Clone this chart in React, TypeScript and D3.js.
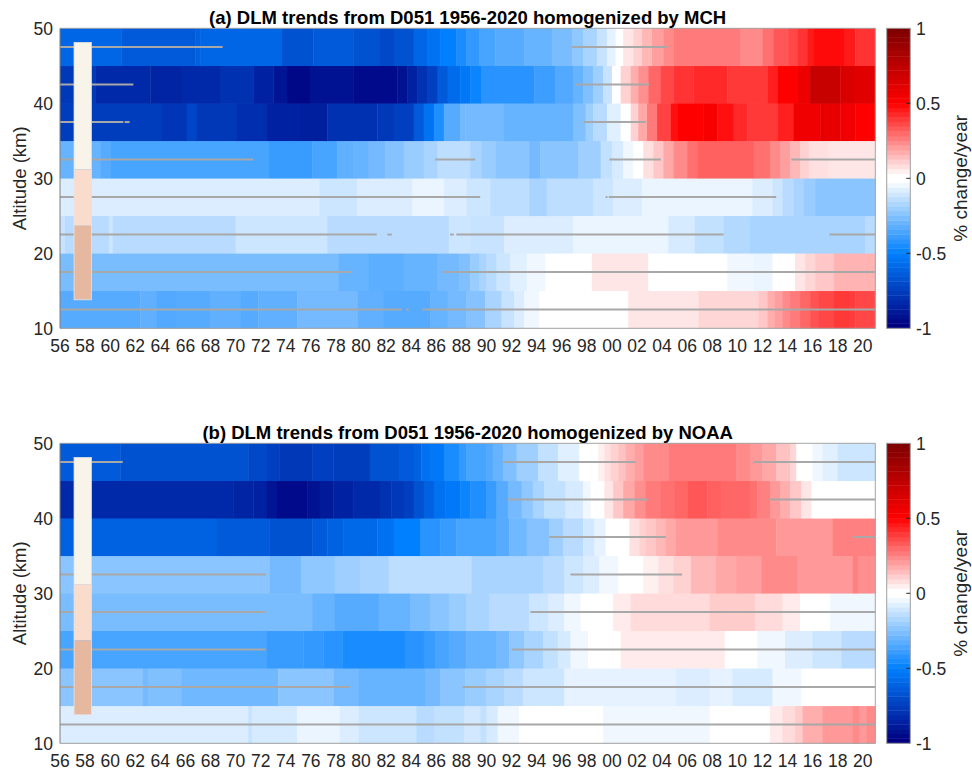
import React from 'react';
import * as d3 from 'd3';

type Seg = [number, number][];
type Span = [number, number][];

// ---------- axes / ticks ----------
const yearStart = 1956;
const yearEnd = 2021;
const xTickYears = d3.range(1956, 2021, 2);
const yTickAlts = [10, 20, 30, 40, 50];
const cbTickValues = [-1, -0.5, 0, 0.5, 1];
const bandLower = [10, 15, 20, 25, 30, 35, 40, 45];
const bandDepth = 5;
const titles = [
  '(a) DLM trends from D051 1956-2020 homogenized by MCH',
  '(b) DLM trends from D051 1956-2020 homogenized by NOAA',
];

// ---------- panel (a) MCH: [start year, trend %/yr] ----------
const mch_10_15: Seg = [[1956,-0.33],[1962.4,-0.31],[1963.7,-0.34],[1965.3,-0.33],[1968,-0.31],[1970.4,-0.33],[1971.8,-0.31],[1974.9,-0.27],[1979.7,-0.31],[1981.8,-0.33],[1985.5,-0.3],[1986.9,-0.27],[1988.4,-0.24],[1989.9,-0.17],[1991.2,-0.11],[1992.2,-0.07],[1993,-0.03],[1994.2,0],[2001.3,0.05],[2006.9,0.08],[2011.7,0.11],[2012.4,0.16],[2013,0.19],[2013.6,0.23],[2014.2,0.26],[2015,0.3],[2015.8,0.34],[2016.5,0.36],[2017.7,0.39],[2018.9,0.38],[2019.4,0.36]];
const mch_15_20: Seg = [[1956,-0.26],[1978.2,-0.3],[1980.6,-0.32],[1983.4,-0.3],[1986.1,-0.27],[1987.8,-0.25],[1988.7,-0.2],[1989.4,-0.17],[1990,-0.14],[1990.8,-0.1],[1991.9,-0.06],[1993.2,-0.03],[1994.7,0],[1998.4,0.05],[2002.9,0],[2009.2,-0.03],[2011.3,-0.04],[2012.8,0],[2014.6,0.05],[2015.4,0.08],[2016.2,0.11],[2017.7,0.15]];
const mch_20_25: Seg = [[1956,-0.11],[1956.4,-0.14],[1959.9,-0.1],[1960.2,-0.14],[1970,-0.1],[1977.3,-0.14],[1987,-0.1],[1988.7,-0.11],[1991.4,-0.07],[1996.9,-0.04],[2004.5,-0.08],[2006.6,-0.12],[2008.9,-0.15],[2011,-0.17],[2020.2,-0.14]];
const mch_25_30: Seg = [[1956,-0.07],[1976.7,-0.1],[1979.7,-0.07],[1984.1,-0.04],[1986.6,-0.07],[1988.4,-0.1],[1990.3,-0.13],[1993.4,-0.17],[1994.8,-0.13],[1998.5,-0.1],[2000.1,-0.07],[2002.4,-0.04],[2011.2,-0.07],[2012.8,-0.1],[2013.6,-0.14],[2014.5,-0.17],[2015.3,-0.2],[2016.2,-0.23]];
const mch_30_35: Seg = [[1956,-0.3],[1959.2,-0.33],[1960,-0.36],[1972.6,-0.39],[1976.1,-0.36],[1978.1,-0.31],[1979.4,-0.3],[1980.6,-0.27],[1981.9,-0.24],[1983.4,-0.2],[1985,-0.17],[1986.1,-0.13],[1988.7,-0.17],[1989.6,-0.2],[1990.7,-0.23],[1993.4,-0.27],[1994.3,-0.23],[1997.3,-0.19],[1999.1,-0.12],[2000,-0.08],[2000.9,-0.03],[2001.7,0],[2002.5,0.06],[2003.3,0.11],[2004.1,0.17],[2004.9,0.23],[2006,0.28],[2006.8,0.31],[2011.3,0.28],[2012.6,0.23],[2013.4,0.19],[2014.2,0.14],[2015,0.09],[2015.7,0.06],[2017.3,0.05]];
const mch_35_40: Seg = [[1956,-0.76],[1964.1,-0.79],[1966.1,-0.73],[1966.9,-0.78],[1970.1,-0.82],[1972.5,-0.87],[1975.1,-0.88],[1977.3,-0.81],[1981.3,-0.78],[1982.6,-0.75],[1984.2,-0.65],[1985,-0.55],[1985.8,-0.44],[1986.6,-0.33],[1987.9,-0.28],[1988.3,-0.27],[1991.4,-0.3],[1996.9,-0.25],[1997.9,-0.19],[1998.5,-0.14],[1999.6,-0.06],[2000.7,0],[2001.5,0.09],[2002.1,0.17],[2002.8,0.26],[2003.6,0.37],[2004.7,0.47],[2005.2,0.5],[2007.3,0.53],[2008.4,0.47],[2009.7,0.42],[2010.8,0.39],[2013.2,0.44],[2014.5,0.56],[2016.6,0.59],[2018.2,0.56],[2019.4,0.5]];
const mch_40_45: Seg = [[1956,-0.78],[1958.8,-0.84],[1963.2,-0.86],[1965.7,-0.84],[1968.8,-0.81],[1971.4,-0.87],[1973,-0.92],[1974.1,-0.97],[1975.9,-0.93],[1979.4,-0.96],[1982.9,-0.93],[1983.7,-0.87],[1984.5,-0.81],[1985.3,-0.75],[1986.1,-0.65],[1986.9,-0.58],[1987.9,-0.53],[1988.7,-0.48],[1989.6,-0.42],[1993.8,-0.38],[1995.5,-0.34],[1996.9,-0.3],[1997.7,-0.25],[1998.5,-0.19],[1999.3,-0.11],[2000,0],[2000.7,0.09],[2001.5,0.16],[2002.1,0.22],[2002.9,0.3],[2003.9,0.36],[2004.9,0.4],[2006.5,0.42],[2009.2,0.39],[2012.4,0.44],[2013.2,0.5],[2014.8,0.57],[2015.8,0.72],[2018.2,0.65],[2019.3,0.62]];
const mch_45_50: Seg = [[1956,-0.6],[1960.9,-0.65],[1966.8,-0.62],[1967.2,-0.6],[1973.7,-0.68],[1976.2,-0.65],[1979.4,-0.68],[1981.5,-0.72],[1982.6,-0.68],[1984.2,-0.6],[1985.3,-0.55],[1986.3,-0.5],[1987.6,-0.45],[1988.4,-0.4],[1989.4,-0.36],[1990.7,-0.33],[1993,-0.3],[1995.2,-0.26],[1996.8,-0.22],[1997.7,-0.17],[1998.8,-0.11],[1999.6,-0.05],[2000.3,0],[2000.9,0.05],[2001.7,0.09],[2002.4,0.14],[2003.2,0.19],[2004.1,0.23],[2004.9,0.26],[2010.2,0.23],[2012,0.28],[2012.9,0.33],[2014.1,0.36],[2014.8,0.4],[2015.6,0.45],[2016.1,0.48],[2018.5,0.45],[2019.4,0.4]];

// ---------- panel (b) NOAA ----------
const noaa_10_15: Seg = [[1956,-0.07],[1971,-0.11],[1971.3,-0.08],[1974.9,-0.04],[1978.3,-0.07],[1979.8,-0.1],[1984.4,-0.14],[1985.8,-0.12],[1988.2,-0.09],[1989.5,-0.12],[1990,-0.08],[1990.9,-0.03],[1992.6,0],[1999.3,-0.03],[2007.8,0],[2012.6,0.04],[2013.6,0.07],[2014.6,0.1],[2015.2,0.16],[2016.8,0.2],[2019.2,0.23],[2019.7,0.2],[2020.3,0.23]];
const noaa_15_20: Seg = [[1956,-0.23],[1962.6,-0.27],[1963,-0.25],[1965.7,-0.28],[1973.4,-0.23],[1977.8,-0.27],[1979.8,-0.3],[1985.1,-0.27],[1986.3,-0.23],[1988.3,-0.2],[1990,-0.17],[1991.4,-0.14],[1992.9,-0.1],[1996.2,-0.05],[2005.1,-0.07],[2007.8,-0.05],[2009.6,-0.08],[2012.8,-0.03],[2015.1,0]];
const noaa_20_25: Seg = [[1956,-0.36],[1972.5,-0.39],[1975.4,-0.4],[1977,-0.42],[1978.5,-0.45],[1983.5,-0.42],[1985,-0.39],[1985.9,-0.36],[1987,-0.33],[1988.4,-0.3],[1990.8,-0.27],[1991.8,-0.22],[1993,-0.17],[1994.5,-0.12],[1995.7,-0.08],[1996.7,-0.03],[1998.1,0],[2000.7,0.04],[2009,0],[2011.6,-0.03],[2013.8,-0.07],[2016,-0.1],[2018.3,-0.14]];
const noaa_25_30: Seg = [[1956,-0.26],[1976.1,-0.3],[1977.9,-0.33],[1981.4,-0.3],[1983.9,-0.26],[1985.5,-0.23],[1987,-0.2],[1988.4,-0.17],[1990.2,-0.14],[1993.4,-0.1],[1994.9,-0.07],[1996.2,-0.03],[1997.5,0],[2000.1,0.04],[2001.5,0.07],[2007.8,0.1],[2011.4,0.07],[2013.6,0.04],[2015,0],[2017.4,-0.03]];
const noaa_30_35: Seg = [[1956,-0.23],[1972.7,-0.27],[1975.2,-0.22],[1977.9,-0.19],[1979.9,-0.17],[1982.2,-0.13],[1988.8,-0.17],[1994.5,-0.14],[1996.2,-0.1],[1997.7,-0.07],[1999,-0.03],[2000.5,0],[2002.5,0.03],[2003.7,0.06],[2004.9,0.09],[2006.3,0.14],[2008.3,0.17],[2009.9,0.19],[2011.9,0.23],[2014.8,0.2],[2019.2,0.25],[2019.6,0.22]];
const noaa_35_40: Seg = [[1956,-0.62],[1968.5,-0.65],[1972.7,-0.68],[1976.1,-0.65],[1977.3,-0.62],[1978.6,-0.59],[1981.3,-0.56],[1982.6,-0.5],[1984.7,-0.42],[1986.3,-0.39],[1987.6,-0.36],[1990.8,-0.33],[1991.8,-0.28],[1993.2,-0.24],[1995,-0.19],[1996.1,-0.14],[1997.7,-0.09],[1998.6,-0.05],[1999.5,0],[2001.4,0.06],[2002.2,0.09],[2002.7,0.11],[2003.5,0.14],[2004.3,0.17],[2005.1,0.2],[2008.4,0.23],[2013.1,0.2],[2017.6,0.25]];
const noaa_40_45: Seg = [[1956,-0.84],[1969.8,-0.86],[1971.4,-0.87],[1972.5,-0.92],[1973.3,-0.96],[1975.7,-0.93],[1976.7,-0.9],[1977.8,-0.87],[1979.4,-0.84],[1981.5,-0.81],[1982.4,-0.78],[1983.4,-0.75],[1984.2,-0.68],[1985,-0.62],[1985.8,-0.56],[1986.7,-0.53],[1987.9,-0.48],[1988.7,-0.44],[1990,-0.39],[1990.8,-0.33],[1991.7,-0.27],[1992.8,-0.22],[1993.7,-0.17],[1994.6,-0.12],[1996.3,-0.08],[1997.7,-0.03],[1998.3,0],[1999.4,0.05],[2000.1,0.11],[2000.9,0.17],[2001.8,0.22],[2002.7,0.26],[2003.9,0.28],[2005,0.3],[2006,0.33],[2007.6,0.31],[2008.7,0.3],[2011,0.28],[2011.6,0.25],[2012.6,0.2],[2013.4,0.16],[2014.2,0.11],[2015.1,0.05],[2015.9,0]];
const noaa_45_50: Seg = [[1956,-0.65],[1960.8,-0.68],[1971,-0.72],[1972.5,-0.75],[1973.5,-0.78],[1976.1,-0.75],[1977.8,-0.76],[1980.7,-0.68],[1983,-0.65],[1984.2,-0.62],[1984.8,-0.56],[1985.5,-0.53],[1986.6,-0.45],[1987.8,-0.4],[1988.4,-0.36],[1990,-0.34],[1990.5,-0.3],[1991.3,-0.25],[1992.4,-0.19],[1994.1,-0.12],[1995.7,-0.06],[1997.4,0],[1998.9,0.03],[1999.4,0.06],[1999.9,0.09],[2000.5,0.12],[2001.1,0.16],[2001.8,0.19],[2002.5,0.23],[2004.5,0.26],[2009.9,0.23],[2011,0.2],[2012,0.17],[2013.1,0.12],[2014.2,0.08],[2014.7,0],[2016,-0.03],[2016.8,-0.06],[2018,-0.1]];

// ---------- grey line year spans per band (bottom band first) ----------
const mchLines: Span[] = [
  [[1956,1983.25],[1983.6,1983.8],[1984.9,2021]],
  [[1956,1979.3],[1986.5,2021]],
  [[1956,1981.25],[1982.1,1982.45],[1987.1,1987.4],[1987.6,2008.9],[2017.35,2021]],
  [[1956,1989.5],[1999.5,1999.65],[1999.75,2013.1]],
  [[1956,1971.4],[1985.9,1989.1],[1999.8,2003.9],[2014.3,2021]],
  [[1956,1961.05],[1961.15,1961.55],[1997.75,2002.7]],
  [[1956,1961.85],[1997.1,2003]],
  [[1956,1968.97],[1996.8,2004.4]],
];
const noaaLines: Span[] = [
  [[1956,2021]],
  [[1956,1979.1],[1988.1,2021]],
  [[1956,1972.4],[1992,2021]],
  [[1956,1972.35],[1993.5,2021]],
  [[1956,1972.4],[1996.7,2005.6]],
  [[1995,2004.3],[2019.2,2021]],
  [[1991.7,2002.9],[2012.6,2021]],
  [[1956,1961],[1991.3,2001.9],[2011.3,2021]],
];

// ---------- vertical bar (years, altitude ranges) ----------
const barYears: [number, number] = [1957.12, 1958.5];
const barAlt: [number, number][] = [[31.2, 48.1], [23.7, 31.2], [13.8, 23.7]];
const barColors = ['#f8f4ea', '#fadccc', '#e6b8a0'];

const mchBands = [mch_10_15, mch_15_20, mch_20_25, mch_25_30, mch_30_35, mch_35_40, mch_40_45, mch_45_50];
const noaaBands = [noaa_10_15, noaa_15_20, noaa_20_25, noaa_25_30, noaa_30_35, noaa_35_40, noaa_40_45, noaa_45_50];

const W = 972, H = 770;
const left = 60, right = 875.3;
const cbLeft = 886.7, cbRight = 910.3;
const FONT = '"Liberation Sans", Arial, Helvetica, sans-serif';

const color = d3.scaleLinear<string>()
  .domain([-1, -0.5, 0, 0.5, 1])
  .range(['#000080', '#0080ff', '#ffffff', '#ff0000', '#800000'])
  .interpolate(d3.interpolateRgb)
  .clamp(true);

const cbLevels = d3.range(64).map(k => (k < 32 ? -1 + k / 31 : (k - 32) / 31));

const x = d3.scaleLinear().domain([yearStart, yearEnd]).range([left, right]);

function Panel({ top, bottom, title, titleY, bands, lines }: {
  top: number; bottom: number; title: string; titleY: number; bands: Seg[]; lines: Span[];
}) {
  const y = d3.scaleLinear().domain([10, 50]).range([bottom, top]);
  const cbY = d3.scaleLinear().domain([0, 64]).range([bottom, top]);
  const cbV = d3.scaleLinear().domain([-1, 1]).range([bottom, top]);
  const midY = (top + bottom) / 2;
  return (
    <g>
      {bands.map((segs, bi) => {
        const lo = bandLower[bi];
        const y0 = y(lo + bandDepth), y1 = y(lo);
        return segs.map((s, si) => {
          const xs = x(s[0]);
          const xe = si + 1 < segs.length ? x(segs[si + 1][0]) : x(yearEnd);
          return (
            <rect key={`${bi}-${si}`} x={xs} y={y0 - 0.25} width={xe - xs + 0.4}
              height={y1 - y0 + 0.5} fill={color(s[1])} />
          );
        });
      })}
      {lines.map((spans, bi) => {
        const yc = y(bandLower[bi] + bandDepth / 2);
        return spans.map((sp, si) => (
          <line key={`l${bi}-${si}`} x1={x(sp[0])} x2={x(sp[1])} y1={yc} y2={yc}
            stroke="#a8a8a8" strokeWidth={2} />
        ));
      })}
      {barAlt.map((a, i) => (
        <rect key={`b${i}`} x={x(barYears[0])} width={x(barYears[1]) - x(barYears[0])}
          y={y(a[1])} height={y(a[0]) - y(a[1])} fill={barColors[i]} />
      ))}
      <rect x={x(barYears[0])} width={x(barYears[1]) - x(barYears[0])}
        y={y(barAlt[0][1])} height={y(barAlt[2][0]) - y(barAlt[0][1])}
        fill="none" stroke="#e4e4e4" strokeWidth={0.8} />
      {/* axes box */}
      <line x1={left} x2={right} y1={top} y2={top} stroke="#a6a6a6" strokeWidth={1} />
      <line x1={right} x2={right} y1={top} y2={bottom} stroke="#a6a6a6" strokeWidth={1} />
      <line x1={left} x2={right} y1={bottom} y2={bottom} stroke="#a0a0a0" strokeWidth={1} />
      <line x1={left} x2={left} y1={top} y2={bottom} stroke="#808080" strokeWidth={1} />
      {/* ticks labels */}
      {xTickYears.map(t => (
        <text key={`xt${t}`} x={x(t)} y={bottom + 24} textAnchor="middle" fontSize={17.5}
          fontFamily={FONT} fill="#262626">{String(t % 100).padStart(2, '0')}</text>
      ))}
      {yTickAlts.map(t => (
        <text key={`yt${t}`} x={53} y={y(t) + 6.3} textAnchor="end" fontSize={17.5}
          fontFamily={FONT} fill="#262626">{t}</text>
      ))}
      <text transform={`translate(26,${midY}) rotate(-90)`} textAnchor="middle" fontSize={18.5}
        fontFamily={FONT} fill="#262626">Altitude (km)</text>
      <text x={(left + right) / 2} y={titleY} textAnchor="middle" fontSize={18.5} fontWeight="bold"
        fontFamily={FONT} fill="#000">{title}</text>
      {/* colorbar */}
      {cbLevels.map((v, k) => (
        <rect key={`cb${k}`} x={cbLeft} width={cbRight - cbLeft} y={cbY(k + 1) - 0.2}
          height={cbY(k) - cbY(k + 1) + 0.4} fill={color(v)} />
      ))}
      <rect x={cbLeft} width={cbRight - cbLeft} y={top} height={bottom - top} fill="none"
        stroke="#a0a0a0" strokeWidth={1} />
      {cbTickValues.map(v => (
        <g key={`cbt${v}`}>
          {v > -1 && v < 1 && (
            <line x1={cbRight - 4} x2={cbRight} y1={cbV(v)} y2={cbV(v)} stroke="#262626" strokeWidth={1} />
          )}
          <text x={916} y={cbV(v) + 6.3} fontSize={17.5} fontFamily={FONT} fill="#262626">{v}</text>
        </g>
      ))}
      <text transform={`translate(967,${midY}) rotate(-90)`} textAnchor="middle" fontSize={19}
        fontFamily={FONT} fill="#262626">% change/year</text>
    </g>
  );
}

export default function App() {
  return (
    <svg width={W} height={H} viewBox={`0 0 ${W} ${H}`}
      style={{ position: 'absolute', left: 0, top: 0, background: '#fff' }}>
      <rect x={0} y={0} width={W} height={H} fill="#fff" />
      <Panel top={28.3} bottom={328.3} title={titles[0]} titleY={24} bands={mchBands} lines={mchLines} />
      <Panel top={443.3} bottom={743.3} title={titles[1]} titleY={439} bands={noaaBands} lines={noaaLines} />
    </svg>
  );
}
